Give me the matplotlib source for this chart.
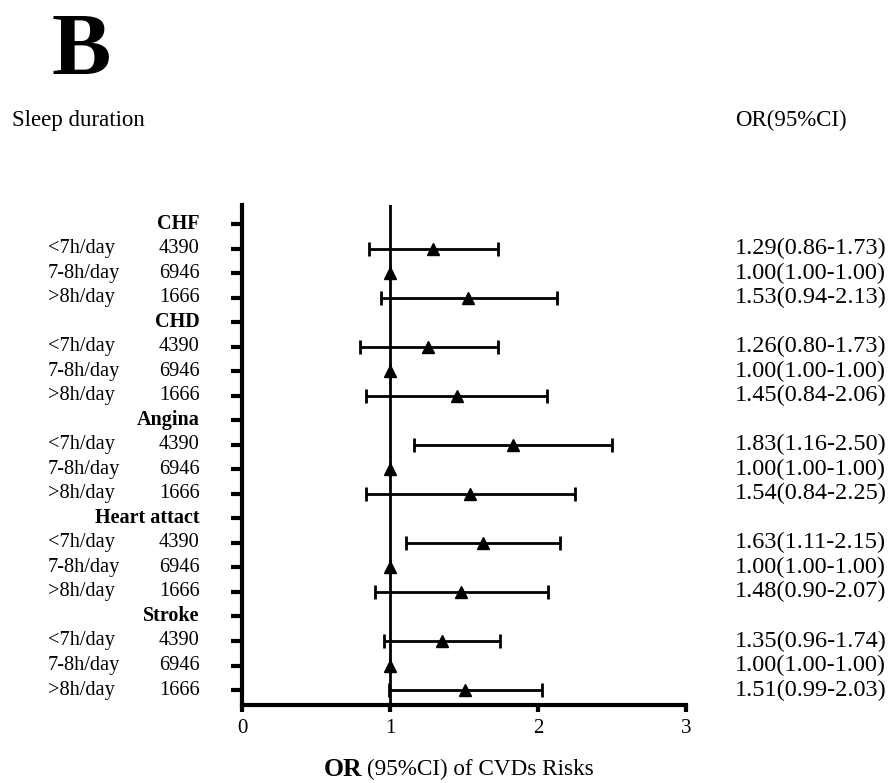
import numpy as np
import matplotlib.pyplot as plt

plt.rcParams['font.family'] = ['Liberation Serif', 'DejaVu Serif']

# data
outcomes = ['CHF', 'CHD', 'Angina', 'Heart attact', 'Stroke']
groups = ['<7h/day', '7-8h/day', '>8h/day']
counts = [4390, 6946, 1666]
or_vals = [[1.29, 1.00, 1.53],
           [1.26, 1.00, 1.45],
           [1.83, 1.00, 1.54],
           [1.63, 1.00, 1.48],
           [1.35, 1.00, 1.51]]
ci_low = [[0.86, 1.00, 0.94],
          [0.80, 1.00, 0.84],
          [1.16, 1.00, 0.84],
          [1.11, 1.00, 0.90],
          [0.96, 1.00, 0.99]]
ci_high = [[1.73, 1.00, 2.13],
           [1.73, 1.00, 2.06],
           [2.50, 1.00, 2.25],
           [2.15, 1.00, 2.07],
           [1.74, 1.00, 2.03]]

fig = plt.figure(figsize=(8.89, 7.83), dpi=100)
ax = fig.add_axes([0.2722, 0.0996, 0.4995, 0.6384])
tr = ax.get_yaxis_transform()

n_rows = len(outcomes) * (len(groups) + 1)
row = 0
for i, name in enumerate(outcomes):
    ax.text(-0.095, row, name, transform=tr, ha='right', va='center',
            fontsize=14.5, fontweight='bold')
    row += 1
    for j, g in enumerate(groups):
        o, lo, hi = or_vals[i][j], ci_low[i][j], ci_high[i][j]
        ax.errorbar(o, row, xerr=[[o - lo], [hi - o]], fmt='^', color='black',
                    markersize=8, elinewidth=2, capsize=5, capthick=2)
        ax.text(-0.437, row, g, transform=tr, ha='left', va='center', fontsize=14.7)
        ax.text(-0.095, row, str(counts[j]), transform=tr, ha='right', va='center', fontsize=14.7)
        ax.text(1.11, row, '%.2f(%.2f-%.2f)' % (o, lo, hi), transform=tr,
                ha='left', va='center', fontsize=17.5)
        row += 1

ax.axvline(1, color='black', lw=2, zorder=0)

ax.set_xlim(0, 3)
ax.set_ylim(n_rows - 1 + 0.61, -0.77)
ax.set_xticks([0, 1, 2, 3])
ax.set_xticklabels(['0', '1', '2', '3'], fontsize=15)
ax.set_yticks(np.arange(n_rows))
ax.set_yticklabels([])
ax.tick_params(axis='y', length=8, width=3, direction='out')
ax.tick_params(axis='x', length=5, width=3, direction='out', pad=5)
for s in ['top', 'right']:
    ax.spines[s].set_visible(False)
for s in ['left', 'bottom']:
    ax.spines[s].set_linewidth(3)

fig.text(0.058, 0.933, 'B', fontsize=64, fontweight='bold', ha='left', va='center')
fig.text(0.013, 0.846, 'Sleep duration', fontsize=16.5, ha='left', va='center')
fig.text(0.827, 0.846, 'OR(95%CI)', fontsize=16.5, ha='left', va='center')
fig.text(0.408, 0.017, 'OR', fontsize=18.5, fontweight='bold', ha='right', va='center')
fig.text(0.413, 0.017, '(95%CI) of CVDs Risks', fontsize=16.7, ha='left', va='center')

fig.savefig('out.png', dpi=100)
